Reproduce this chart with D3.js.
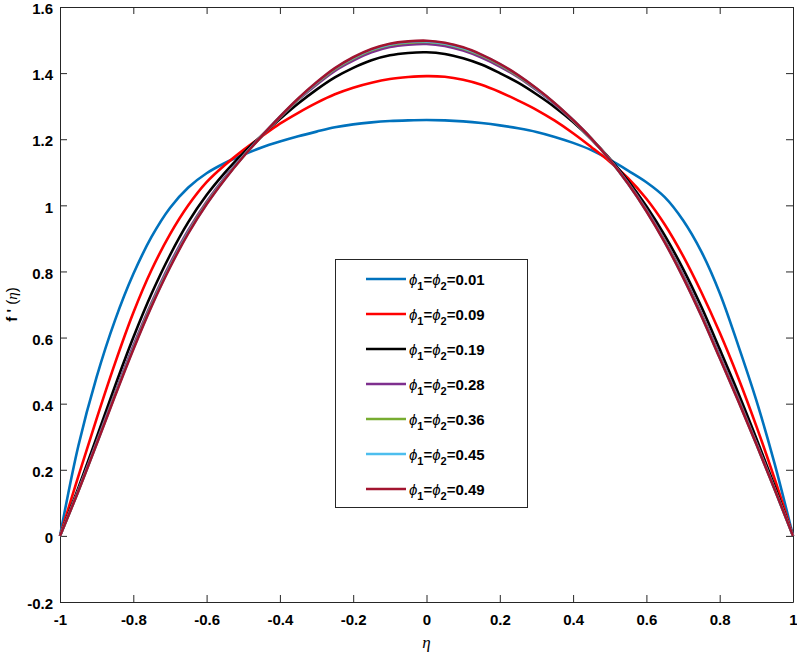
<!DOCTYPE html>
<html lang="en">
<head>
<meta charset="UTF-8"/>
<title>f'(eta) profiles</title>
<script src="https://d3js.org/d3.v7.min.js"></script>
<style>
    body { margin: 0; background: #fff; }
    text { font-family: "Liberation Sans", Arial, sans-serif; }
</style>
</head>
<body>
<script>
    // Chart size and axes box
    var w = 797;
    var h = 657;
    var margin = { left: 60, right: 4, top: 7, bottom: 55 };

    // Data
    var eta = [-1, -0.95, -0.9, -0.85, -0.8, -0.75, -0.7, -0.65, -0.6, -0.55, -0.5,
               -0.45, -0.4, -0.35, -0.3, -0.25, -0.2, -0.15, -0.1, -0.05, 0,
               0.05, 0.1, 0.15, 0.2, 0.25, 0.3, 0.35, 0.4, 0.45, 0.5,
               0.55, 0.6, 0.65, 0.7, 0.75, 0.8, 0.85, 0.9, 0.95, 1];

    var phiLabels = ["0.01", "0.09", "0.19", "0.28", "0.36", "0.45", "0.49"];

    var f001 = [0, 0.272, 0.481, 0.652, 0.792, 0.905, 0.992, 1.054, 1.097, 1.128, 1.153,
                1.175, 1.193, 1.209, 1.223, 1.236, 1.245, 1.251, 1.255, 1.257, 1.258,
                1.257, 1.254, 1.249, 1.242, 1.233, 1.222, 1.207, 1.189, 1.167, 1.138,
                1.105, 1.07, 1.025, 0.955, 0.86, 0.735, 0.578, 0.41, 0.218, 0];
    var f009 = [0, 0.18, 0.355, 0.522, 0.675, 0.805, 0.912, 1.0, 1.07, 1.122, 1.167,
                1.208, 1.247, 1.28, 1.31, 1.336, 1.356, 1.371, 1.382, 1.388, 1.391,
                1.389, 1.38, 1.365, 1.343, 1.317, 1.289, 1.256, 1.218, 1.176, 1.132,
                1.082, 1.02, 0.942, 0.847, 0.737, 0.615, 0.48, 0.332, 0.172, 0];
    var f019 = [0, 0.145, 0.298, 0.453, 0.60, 0.733, 0.849, 0.949, 1.031, 1.099, 1.158,
                1.211, 1.261, 1.308, 1.35, 1.387, 1.416, 1.439, 1.454, 1.461, 1.463,
                1.458, 1.445, 1.426, 1.40, 1.371, 1.336, 1.297, 1.252, 1.20, 1.141,
                1.074, 0.997, 0.909, 0.808, 0.693, 0.565, 0.434, 0.295, 0.15, 0];
    var f028 = [0, 0.138, 0.284, 0.432, 0.575, 0.706, 0.823, 0.925, 1.011, 1.085, 1.15,
                1.21, 1.266, 1.319, 1.365, 1.407, 1.438, 1.463, 1.479, 1.486, 1.488,
                1.482, 1.468, 1.447, 1.42, 1.388, 1.349, 1.306, 1.256, 1.201, 1.139,
                1.068, 0.987, 0.894, 0.79, 0.673, 0.546, 0.417, 0.282, 0.143, 0];
    var f036 = [0, 0.136, 0.28, 0.427, 0.568, 0.70, 0.816, 0.919, 1.006, 1.081, 1.148,
                1.209, 1.267, 1.321, 1.369, 1.412, 1.444, 1.469, 1.485, 1.492, 1.494,
                1.488, 1.474, 1.453, 1.425, 1.391, 1.352, 1.308, 1.257, 1.202, 1.138,
                1.066, 0.984, 0.891, 0.785, 0.668, 0.541, 0.413, 0.279, 0.141, 0];
    var f045 = [0, 0.136, 0.279, 0.425, 0.566, 0.697, 0.814, 0.917, 1.004, 1.08, 1.148,
                1.209, 1.268, 1.322, 1.371, 1.414, 1.446, 1.471, 1.487, 1.494, 1.496,
                1.49, 1.476, 1.455, 1.427, 1.393, 1.353, 1.308, 1.258, 1.202, 1.138,
                1.065, 0.983, 0.889, 0.783, 0.666, 0.539, 0.411, 0.278, 0.14, 0];
    var f049 = [0, 0.135, 0.278, 0.423, 0.564, 0.695, 0.812, 0.915, 1.003, 1.079, 1.147,
                1.209, 1.268, 1.323, 1.372, 1.415, 1.448, 1.473, 1.489, 1.496, 1.498,
                1.492, 1.478, 1.456, 1.428, 1.394, 1.354, 1.309, 1.258, 1.202, 1.138,
                1.065, 0.982, 0.888, 0.782, 0.665, 0.538, 0.41, 0.277, 0.14, 0];

    var xTicks = [-1, -0.8, -0.6, -0.4, -0.2, 0, 0.2, 0.4, 0.6, 0.8, 1];
    var yTicks = [-0.2, 0, 0.2, 0.4, 0.6, 0.8, 1, 1.2, 1.4, 1.6];

    var seriesValues = [f001, f009, f019, f028, f036, f045, f049];
    var colours = ["#0072BD", "#FF0000", "#000000", "#7E2F8E", "#77AC30", "#4DBEEE", "#A2142F"];

    // Scales
    var xScale = d3.scaleLinear()
        .domain([-1, 1])
        .range([margin.left, w - margin.right]);

    var yScale = d3.scaleLinear()
        .domain([-0.2, 1.6])
        .range([h - margin.bottom, margin.top]);

    var svg = d3.select("body")
        .append("svg")
        .attr("width", w)
        .attr("height", h);

    var axisColour = "#262626";
    var fmt = d => String(+d.toFixed(1));

    // Axes with inward ticks, box on all four sides
    var xAxis = d3.axisBottom(xScale).tickValues(xTicks).tickSizeInner(-7).tickSizeOuter(0).tickFormat(fmt);
    var yAxis = d3.axisLeft(yScale).tickValues(yTicks).tickSizeInner(-7).tickSizeOuter(0).tickFormat(fmt);
    var xTop = d3.axisTop(xScale).tickValues(xTicks).tickSizeInner(-7).tickSizeOuter(0).tickFormat("");
    var yRight = d3.axisRight(yScale).tickValues(yTicks).tickSizeInner(-7).tickSizeOuter(0).tickFormat("");

    var gx = svg.append("g")
        .attr("transform", `translate(0,${h - margin.bottom})`)
        .call(xAxis);
    var gy = svg.append("g")
        .attr("transform", `translate(${margin.left},0)`)
        .call(yAxis);
    svg.append("g")
        .attr("transform", `translate(0,${margin.top})`)
        .call(xTop);
    svg.append("g")
        .attr("transform", `translate(${w - margin.right},0)`)
        .call(yRight);

    svg.selectAll(".domain, .tick line").attr("stroke", axisColour);

    gx.selectAll("text")
        .attr("y", 12)
        .attr("dy", "0.71em")
        .attr("fill", "#000")
        .style("font-size", "15px")
        .style("font-weight", "bold");
    gy.selectAll("text")
        .attr("x", -7)
        .attr("dy", "0.45em")
        .attr("fill", "#000")
        .style("font-size", "15px")
        .style("font-weight", "bold");

    // Curves
    var line = d3.line()
        .x((d, i) => xScale(eta[i]))
        .y(d => yScale(d))
        .curve(d3.curveCatmullRom.alpha(0.5));

    svg.append("g")
        .selectAll("path")
        .data(seriesValues)
        .enter()
        .append("path")
        .attr("d", d => line(d))
        .attr("fill", "none")
        .attr("stroke", (d, i) => colours[i])
        .attr("stroke-width", 2.6);

    // Axis labels
    svg.append("text")
        .attr("x", (xScale(-1) + xScale(1)) / 2)
        .attr("y", 648)
        .attr("text-anchor", "middle")
        .style("font-size", "17px")
        .style("font-style", "italic")
        .style("font-family", "'Liberation Serif', serif")
        .text("η");

    var yl = svg.append("text")
        .attr("transform", `translate(17,${(yScale(-0.2) + yScale(1.6)) / 2}) rotate(-90)`)
        .attr("text-anchor", "middle")
        .style("font-size", "15px");
    yl.append("tspan").style("font-weight", "bold").text("f ' ");
    yl.append("tspan").text("(");
    yl.append("tspan").style("font-style", "italic").style("font-family", "'Liberation Serif', serif").text("η");
    yl.append("tspan").text(")");

    // Legend
    var legend = svg.append("g");
    legend.append("rect")
        .attr("x", 335.5)
        .attr("y", 259.5)
        .attr("width", 192)
        .attr("height", 248)
        .attr("fill", "#fff")
        .attr("stroke", axisColour)
        .attr("stroke-width", 1);

    var rows = legend.selectAll("g.row")
        .data(phiLabels)
        .enter()
        .append("g")
        .attr("class", "row")
        .attr("transform", (d, i) => `translate(0,${279 + i * 35})`);

    rows.append("line")
        .attr("x1", 366)
        .attr("x2", 406)
        .attr("stroke", (d, i) => colours[i])
        .attr("stroke-width", 2.6);

    var lt = rows.append("text")
        .attr("x", 409)
        .attr("y", 5.5)
        .style("font-size", "15px")
        .style("font-weight", "bold");
    lt.append("tspan").style("font-style", "italic").style("font-weight", "normal").text("ϕ");
    lt.append("tspan").attr("dy", 5).style("font-size", "11px").text("1");
    lt.append("tspan").attr("dy", -5).text("=");
    lt.append("tspan").style("font-style", "italic").style("font-weight", "normal").text("ϕ");
    lt.append("tspan").attr("dy", 5).style("font-size", "11px").text("2");
    lt.append("tspan").attr("dy", -5).text(d => "=" + d);
</script>
</body>
</html>
